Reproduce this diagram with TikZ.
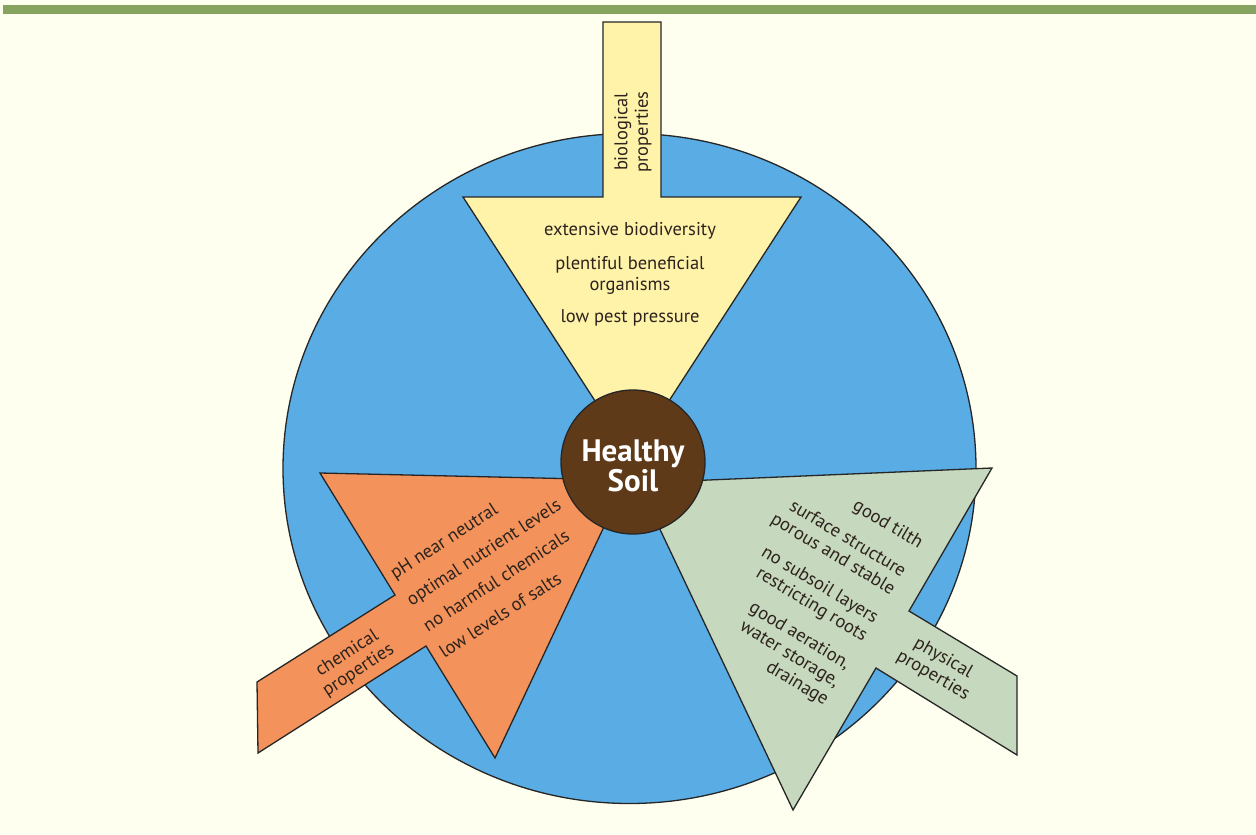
\documentclass[tikz,border=0pt]{standalone}
\usepackage{fontspec}
\setmainfont{PT Sans}
\definecolor{bg}{RGB}{255,255,240}
\definecolor{bar}{RGB}{134,163,96}
\definecolor{skyblue}{RGB}{90,172,228}
\definecolor{bioyellow}{RGB}{255,243,170}
\definecolor{chemorange}{RGB}{243,146,90}
\definecolor{physsage}{RGB}{198,216,190}
\definecolor{soilbrown}{RGB}{95,58,25}
\definecolor{txt}{RGB}{45,35,28}
\begin{document}
\begin{tikzpicture}[x=1pt,y=-1pt,
  outline/.style={draw=black!85, line width=1.3pt, line join=miter},
  item/.style={text=txt, font=\fontsize{18.5}{20}\selectfont, inner sep=0pt},
  label/.style={text=txt, font=\fontsize{18.5}{20.5}\selectfont, inner sep=0pt, align=center}]
\useasboundingbox (0,0) rectangle (1256,835);
\fill[bg] (0,0) rectangle (1256,835);
\fill[bar] (3,5) rectangle (1256,14);
% big disc
\draw[outline, fill=skyblue] (629.5,468.5) ellipse [x radius=346.5pt, y radius=335pt];
% biological arrow
\draw[outline, fill=bioyellow] (603,22) -- (661,22) -- (661,197) -- (801,197) -- (632,458) -- (463,197) -- (603,197) -- cycle;
% chemical arrow
\draw[outline, fill=chemorange] (320,473) -- (626,480) -- (495,758) -- (426,646) -- (258,753) -- (257,682) -- (395,595) -- cycle;
% physical arrow
\draw[outline, fill=physsage] (992,468) -- (909,611) -- (1017,676) -- (1017,755) -- (876,668) -- (793,810) -- (638,483) -- cycle;
% centre
\node (soil) [circle, draw=black!85, line width=1.3pt, fill=soilbrown, minimum size=144pt, inner sep=0pt] at (633,462) {};
\node (soiltext) [align=center, text=white, inner sep=0pt, font=\bfseries\fontsize{31}{28}\selectfont] at (633,466) {Healthy\\Soil};
% biological texts
\node (biolabel) [label, rotate=90] at (633,132) {biological\\properties};
\node (bio1) [item, anchor=base] at (630,235) {extensive biodiversity};
\node (bio2) [item, anchor=base] at (630,269) {plentiful beneficial};
\node (bio3) [item, anchor=base] at (630,290) {organisms};
\node (bio4) [item, anchor=base] at (630,322) {low pest pressure};
% chemical texts
\node (chemlabel) [label, rotate=33] at (353,662) {chemical\\properties};
\node (chem1) [item, anchor=base west, rotate=33] at (395,580) {pH near neutral};
\node (chem2) [item, anchor=base west, rotate=33] at (411.4,606.3) {optimal nutrient levels};
\node (chem3) [item, anchor=base west, rotate=33] at (427.9,632.6) {no harmful chemicals};
\node (chem4) [item, anchor=base west, rotate=33] at (444.3,658.9) {low levels of salts};
% physical texts
\node (physlabel) [label, rotate=-30] at (938,667) {physical\\properties};
\node (phys1) [item, anchor=base east, rotate=-31] at (918.7,549) {good tilth};
\node (phys2) [item, anchor=base east, rotate=-31] at (901.7,577.3) {surface structure};
\node (phys3) [item, anchor=base east, rotate=-31] at (890.9,595.3) {porous and stable};
\node (phys4) [item, anchor=base east, rotate=-31] at (873.9,623.6) {no subsoil layers};
\node (phys5) [item, anchor=base east, rotate=-31] at (863.1,641.6) {restricting roots};
\node (phys6) [item, anchor=base east, rotate=-31] at (846.1,669.8) {good aeration,};
\node (phys7) [item, anchor=base east, rotate=-31] at (835.3,687.8) {water storage,};
\node (phys8) [item, anchor=base east, rotate=-31] at (824.4,705.8) {drainage};
\end{tikzpicture}
\end{document}
